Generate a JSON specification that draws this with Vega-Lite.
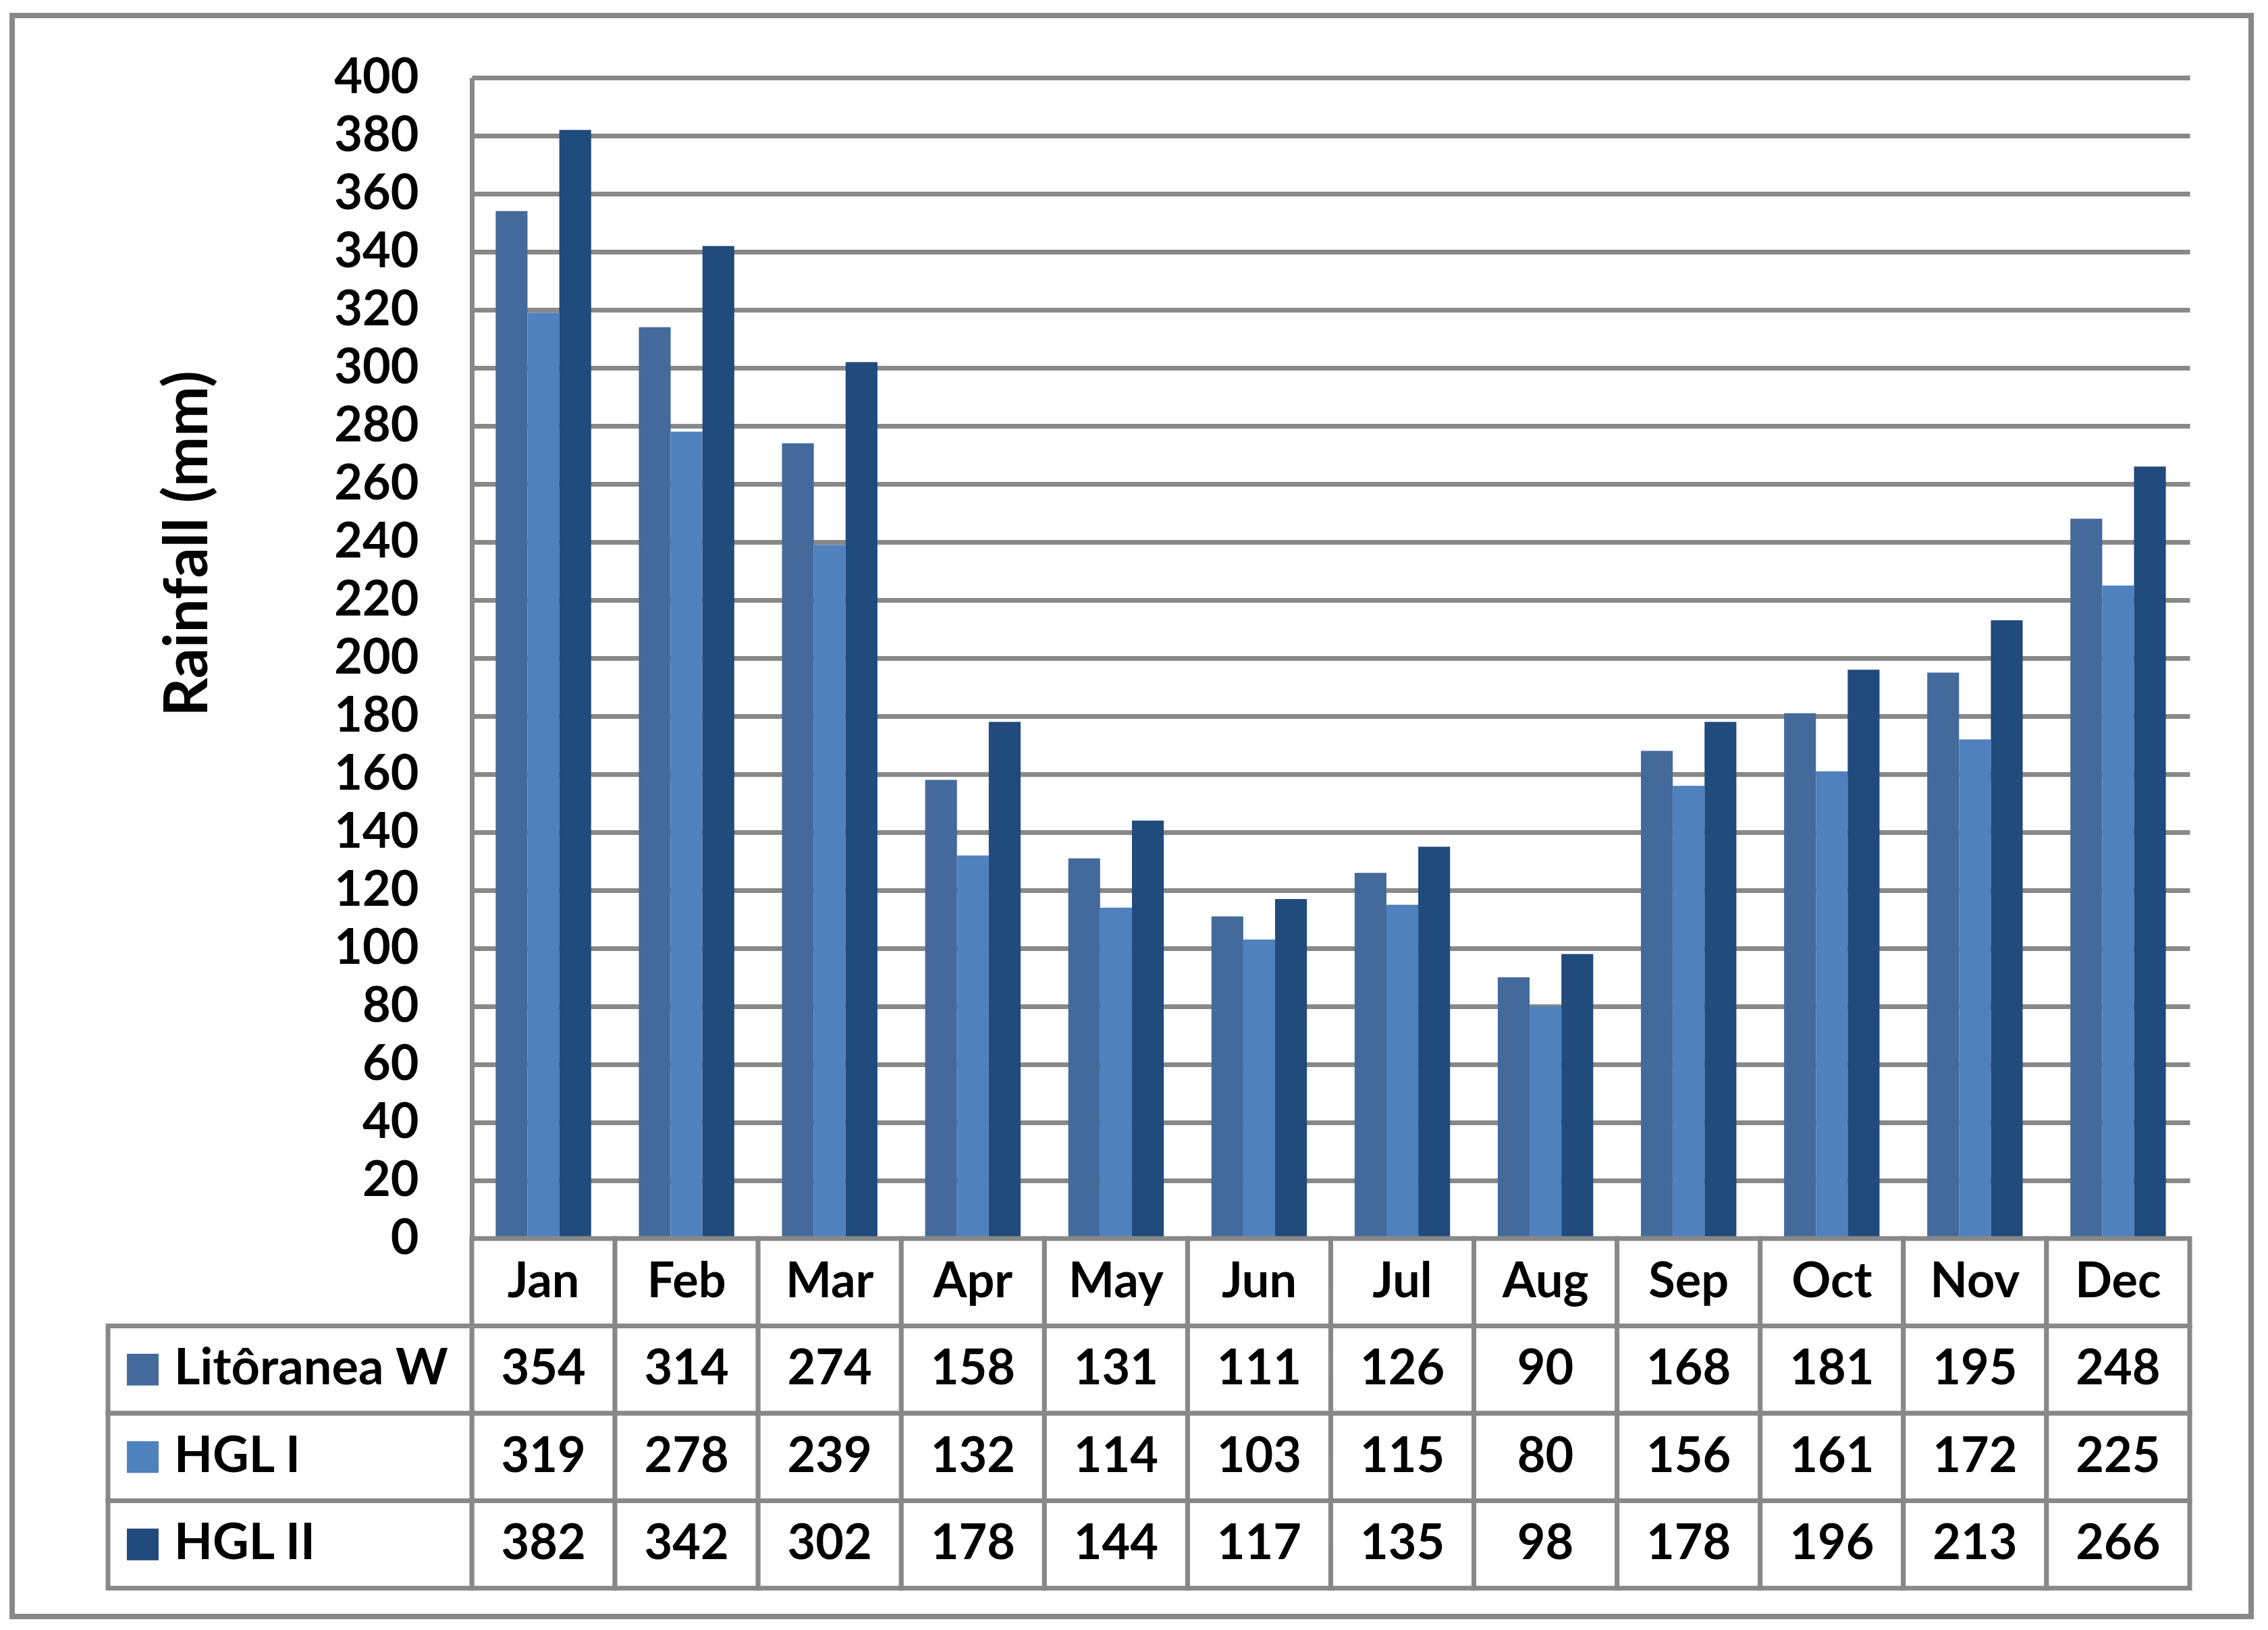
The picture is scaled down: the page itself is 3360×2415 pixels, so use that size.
{
  "$schema": "https://vega.github.io/schema/vega-lite/v6.json",
  "autosize": {"type": "none"},
  "padding": {"left": 18, "top": 23, "right": 25, "bottom": 20},
  "width": 3317,
  "height": 2372,
  "background": "white",
  "view": {"stroke": "#888888", "strokeWidth": 8, "fill": "white"},
  "config": {"font": "Lato"},
  "datasets": {
    "rain": [
      {"month": "Jan", "series": "Litôranea W", "rainfall": 354},
      {"month": "Jan", "series": "HGL I", "rainfall": 319},
      {"month": "Jan", "series": "HGL II", "rainfall": 382},
      {"month": "Feb", "series": "Litôranea W", "rainfall": 314},
      {"month": "Feb", "series": "HGL I", "rainfall": 278},
      {"month": "Feb", "series": "HGL II", "rainfall": 342},
      {"month": "Mar", "series": "Litôranea W", "rainfall": 274},
      {"month": "Mar", "series": "HGL I", "rainfall": 239},
      {"month": "Mar", "series": "HGL II", "rainfall": 302},
      {"month": "Apr", "series": "Litôranea W", "rainfall": 158},
      {"month": "Apr", "series": "HGL I", "rainfall": 132},
      {"month": "Apr", "series": "HGL II", "rainfall": 178},
      {"month": "May", "series": "Litôranea W", "rainfall": 131},
      {"month": "May", "series": "HGL I", "rainfall": 114},
      {"month": "May", "series": "HGL II", "rainfall": 144},
      {"month": "Jun", "series": "Litôranea W", "rainfall": 111},
      {"month": "Jun", "series": "HGL I", "rainfall": 103},
      {"month": "Jun", "series": "HGL II", "rainfall": 117},
      {"month": "Jul", "series": "Litôranea W", "rainfall": 126},
      {"month": "Jul", "series": "HGL I", "rainfall": 115},
      {"month": "Jul", "series": "HGL II", "rainfall": 135},
      {"month": "Aug", "series": "Litôranea W", "rainfall": 90},
      {"month": "Aug", "series": "HGL I", "rainfall": 80},
      {"month": "Aug", "series": "HGL II", "rainfall": 98},
      {"month": "Sep", "series": "Litôranea W", "rainfall": 168},
      {"month": "Sep", "series": "HGL I", "rainfall": 156},
      {"month": "Sep", "series": "HGL II", "rainfall": 178},
      {"month": "Oct", "series": "Litôranea W", "rainfall": 181},
      {"month": "Oct", "series": "HGL I", "rainfall": 161},
      {"month": "Oct", "series": "HGL II", "rainfall": 196},
      {"month": "Nov", "series": "Litôranea W", "rainfall": 195},
      {"month": "Nov", "series": "HGL I", "rainfall": 172},
      {"month": "Nov", "series": "HGL II", "rainfall": 213},
      {"month": "Dec", "series": "Litôranea W", "rainfall": 248},
      {"month": "Dec", "series": "HGL I", "rainfall": 225},
      {"month": "Dec", "series": "HGL II", "rainfall": 266}
    ]
  },
  "data": {"name": "rain"},
  "resolve": {"scale": {"x": "independent", "y": "independent"}},
  "layer": [
    {
      "mark": {"type": "bar"},
      "encoding": {
        "x": {
          "field": "month", "type": "nominal",
          "scale": {"domain": ["Jan","Feb","Mar","Apr","May","Jun","Jul","Aug","Sep","Oct","Nov","Dec"], "range": [681, 3226], "paddingInner": 0.3333, "paddingOuter": 0.1667},
          "axis": null
        },
        "xOffset": {
          "field": "series", "type": "nominal",
          "scale": {"domain": ["Litôranea W", "HGL I", "HGL II"], "paddingInner": 0, "paddingOuter": 0}
        },
        "y": {
          "field": "rainfall", "type": "quantitative",
          "scale": {"domain": [0, 400], "range": [1812, 92], "nice": false},
          "axis": {
            "orient": "left", "offset": -681,
            "values": [0,20,40,60,80,100,120,140,160,180,200,220,240,260,280,300,320,340,360,380,400],
            "grid": true, "gridColor": "#888888", "gridWidth": 7,
            "domain": true, "domainColor": "#888888", "domainWidth": 7,
            "ticks": false, "tickSize": 0,
            "labelFont": "Lato", "labelFontSize": 72, "labelFontWeight": "bold", "labelColor": "black", "labelPadding": 79,
            "title": "Rainfall (mm)", "titleFont": "Lato", "titleFontSize": 89, "titleFontWeight": "bold", "titleColor": "black",
            "titleX": -420, "titleY": 782, "titleAngle": -90, "titleAlign": "center", "titleBaseline": "middle"
          }
        },
        "color": {
          "field": "series", "type": "nominal",
          "scale": {"domain": ["Litôranea W", "HGL I", "HGL II"], "range": ["#436A9B", "#4F81BD", "#214A7D"]},
          "legend": null
        }
      }
    },
    {
      "layer": [
        {
          "mark": {"type": "rect", "fill": "white", "stroke": "#888888", "strokeWidth": 7},
          "encoding": {
            "x": {"field": "month", "type": "nominal", "scale": {"domain": ["Jan","Feb","Mar","Apr","May","Jun","Jul","Aug","Sep","Oct","Nov","Dec"], "range": [681, 3226], "paddingInner": 0, "paddingOuter": 0}, "axis": null},
            "y": {"field": "series", "type": "nominal", "scale": {"domain": ["hdr", "Litôranea W", "HGL I", "HGL II"], "range": [1812, 2330], "paddingInner": 0, "paddingOuter": 0}, "axis": null}
          }
        },
        {
          "transform": [{"filter": "datum.series === 'Litôranea W'"}],
          "mark": {"type": "rect", "fill": "white", "stroke": "#888888", "strokeWidth": 7},
          "encoding": {
            "x": {"field": "month", "type": "nominal"},
            "y": {"datum": "hdr", "type": "nominal"}
          }
        },
        {
          "mark": {"type": "text", "font": "Lato", "fontWeight": "bold", "fontSize": 72, "color": "black", "baseline": "middle", "align": "center"},
          "encoding": {
            "x": {"field": "month", "type": "nominal"},
            "y": {"field": "series", "type": "nominal"},
            "text": {"field": "rainfall", "type": "quantitative"}
          }
        },
        {
          "transform": [{"filter": "datum.series === 'Litôranea W'"}],
          "mark": {"type": "text", "font": "Lato", "fontWeight": "bold", "fontSize": 72, "color": "black", "baseline": "middle", "align": "center"},
          "encoding": {
            "x": {"field": "month", "type": "nominal"},
            "y": {"datum": "hdr", "type": "nominal"},
            "text": {"field": "month", "type": "nominal"}
          }
        }
      ]
    },
    {
      "transform": [{"filter": "datum.month === 'Jan'"}],
      "layer": [
        {
          "mark": {"type": "rect", "fill": "white", "stroke": "#888888", "strokeWidth": 7},
          "encoding": {
            "x": {"datum": "key", "type": "nominal", "scale": {"domain": ["key"], "range": [142, 681], "paddingInner": 0, "paddingOuter": 0}, "axis": null},
            "y": {"field": "series", "type": "nominal", "scale": {"domain": ["hdr", "Litôranea W", "HGL I", "HGL II"], "range": [1812, 2330], "paddingInner": 0, "paddingOuter": 0}, "axis": null}
          }
        },
        {
          "mark": {"type": "square", "size": 2209, "opacity": 1, "filled": true},
          "encoding": {
            "x": {"datum": "key", "type": "nominal", "bandPosition": 0.0955},
            "y": {"field": "series", "type": "nominal"},
            "color": {"field": "series", "type": "nominal", "legend": null}
          }
        },
        {
          "mark": {"type": "text", "font": "Lato", "fontWeight": "bold", "fontSize": 74, "color": "black", "baseline": "middle", "align": "left"},
          "encoding": {
            "x": {"datum": "key", "type": "nominal", "bandPosition": 0.182},
            "y": {"field": "series", "type": "nominal"},
            "text": {"field": "series", "type": "nominal"}
          }
        }
      ]
    }
  ]
}
